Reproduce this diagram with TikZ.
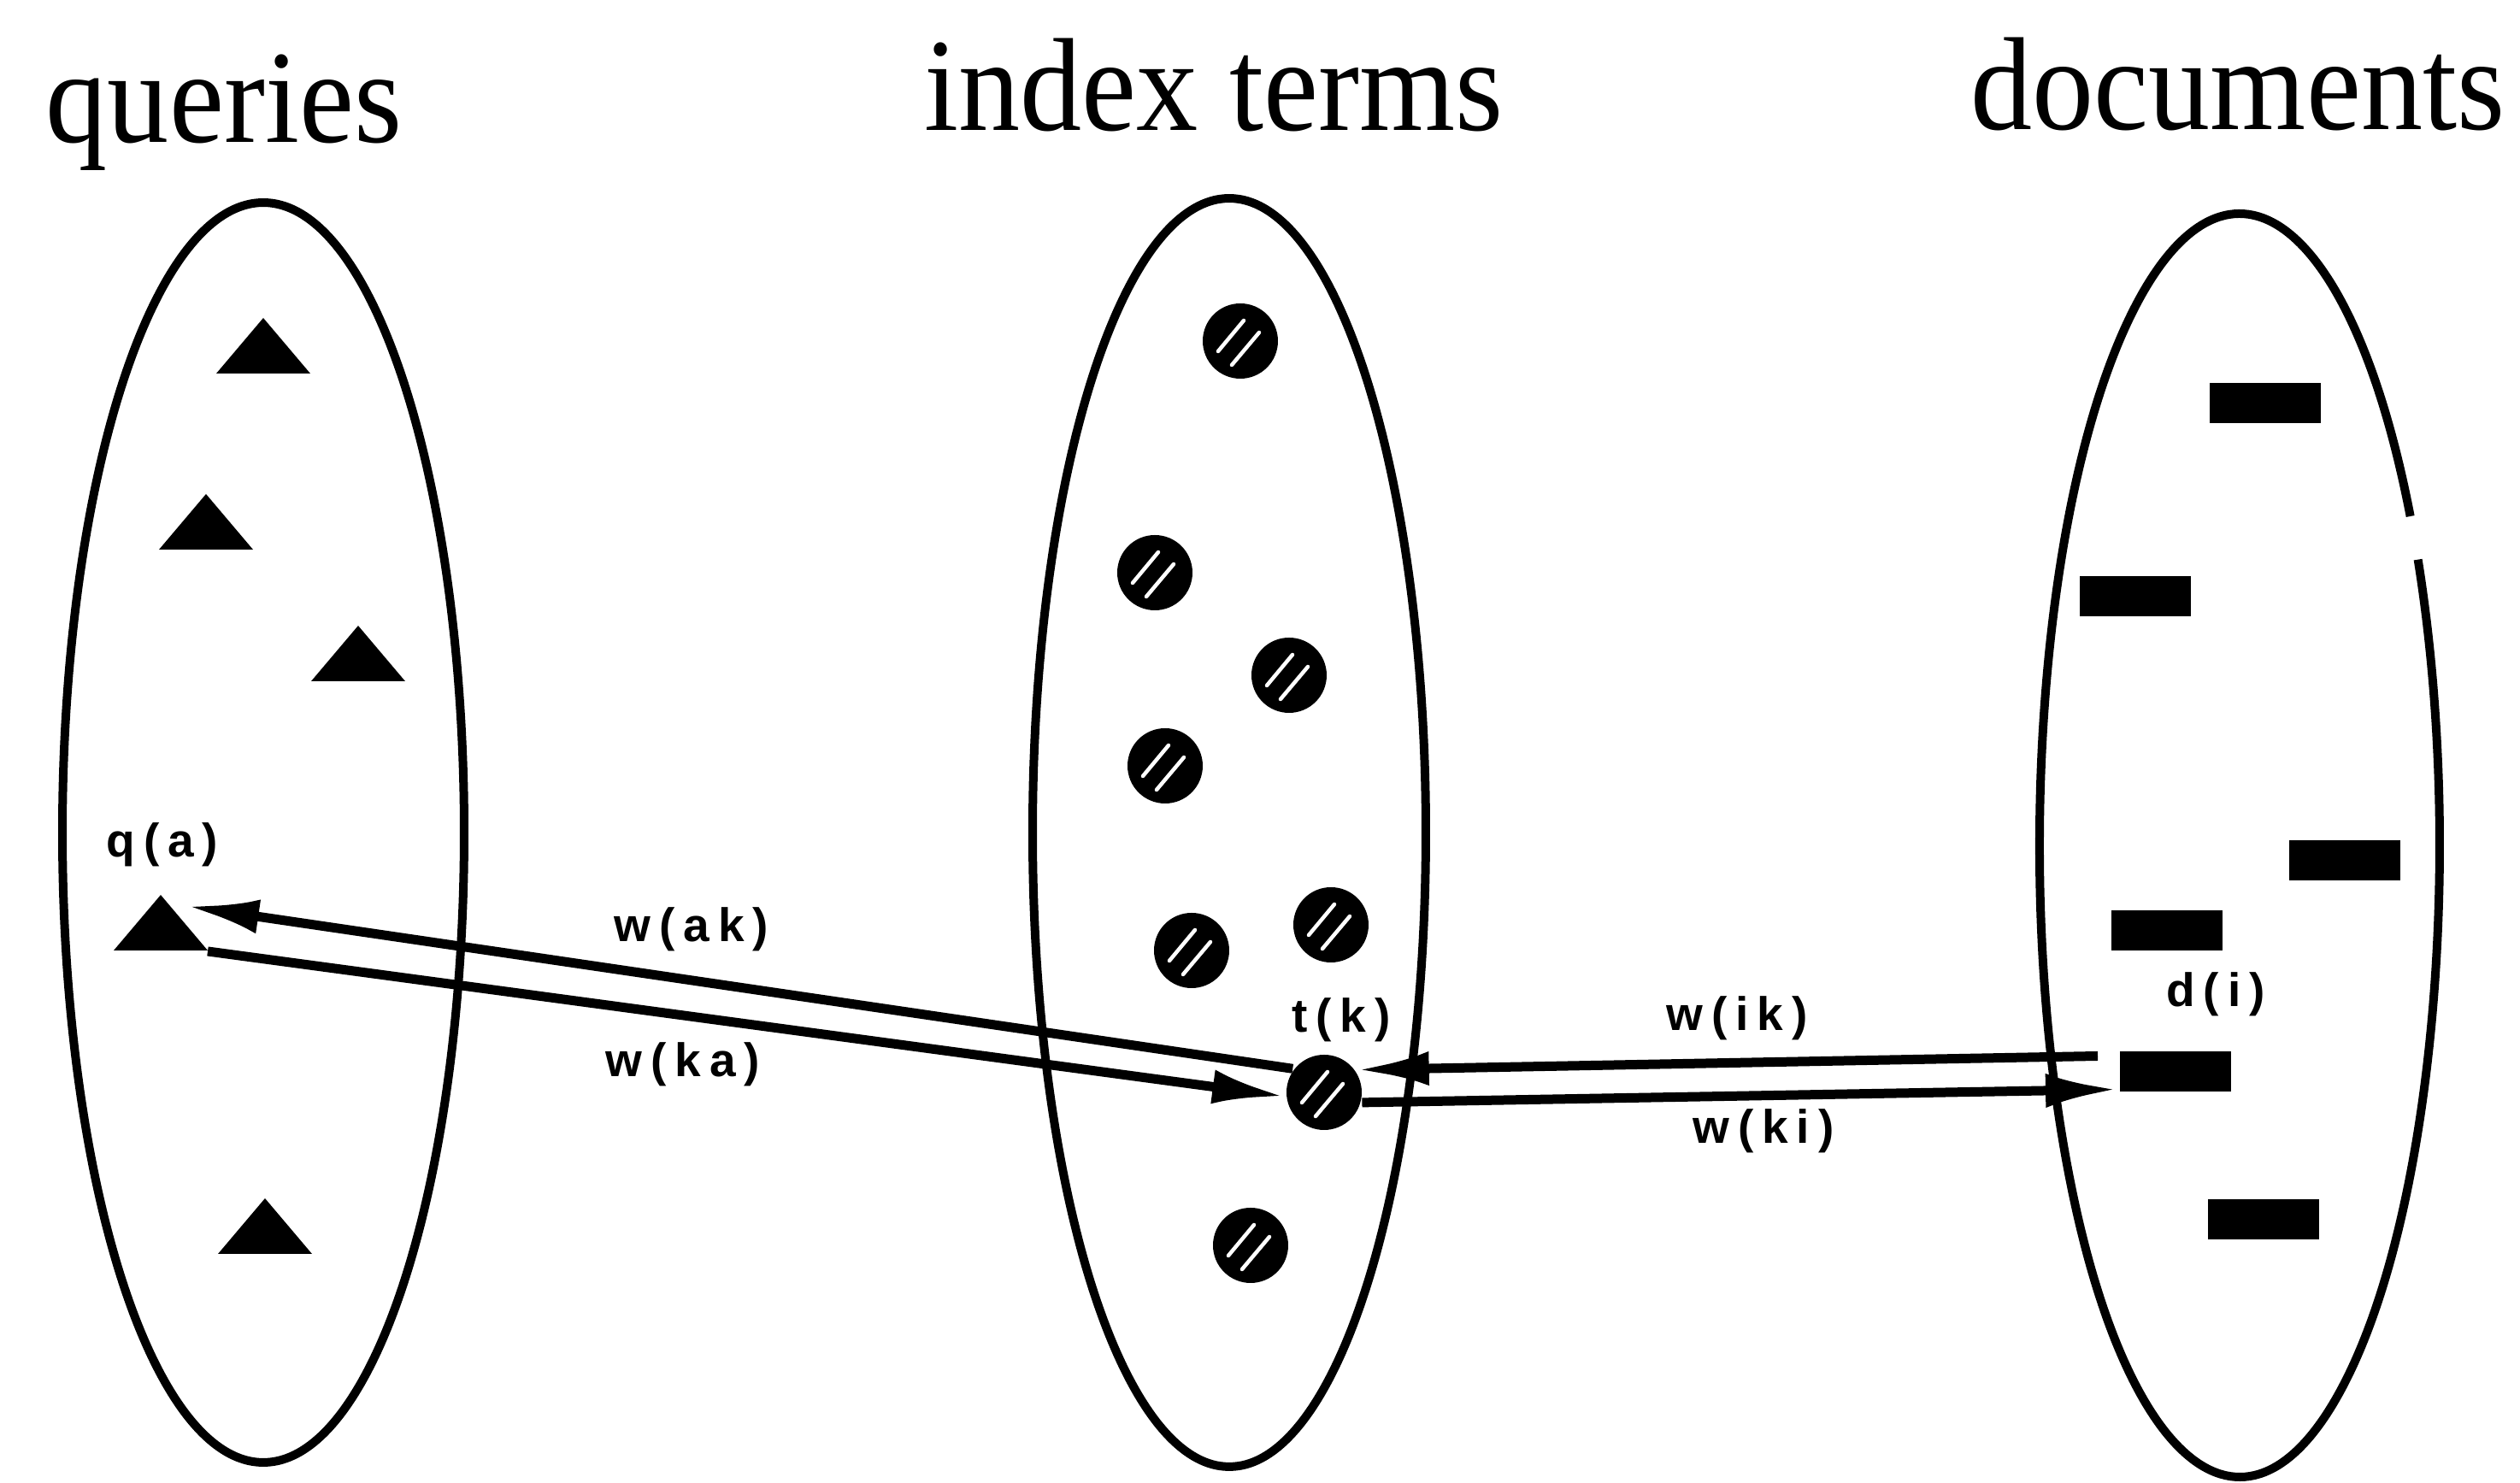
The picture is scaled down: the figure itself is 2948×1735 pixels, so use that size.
\documentclass[tikz,border=0pt]{standalone}
\usepackage{fontspec}
\setmainfont{Liberation Serif}
\newfontfamily\lblfont[LetterSpace=18]{Liberation Sans}
\usetikzlibrary{shapes.geometric,arrows.meta}
\newcommand{\qtri}[2]{\coordinate (#1) at (#2); \fill (#1) ++(0,-33) -- ++(55,65) -- ++(-110,0) -- cycle;}
\begin{document}
\begin{tikzpicture}[x=0.1pt,y=-0.1pt,
  setell/.style={draw, ellipse, line width=1pt, inner sep=0pt},
  term/.style={circle, fill=black, inner sep=0pt, minimum size=8.8pt, path picture={
     \draw[white, line width=0.45pt, line cap=round] ([shift={(-2.6pt,-1.2pt)}]path picture bounding box.center) -- ([shift={(0.4pt,2.4pt)}]path picture bounding box.center);
     \draw[white, line width=0.45pt, line cap=round] ([shift={(-1.0pt,-2.8pt)}]path picture bounding box.center) -- ([shift={(2.2pt,1.0pt)}]path picture bounding box.center);}},
  doc/.style={rectangle, fill=black, inner sep=0pt, minimum width=13pt, minimum height=4.7pt},
  title/.style={font=\fontsize{15.5pt}{18pt}\selectfont, inner sep=0pt, anchor=base, xscale=0.93},
  lbl/.style={font=\lblfont\bfseries\fontsize{5.5pt}{6pt}\selectfont, inner sep=0pt},
  conn/.style={line width=1.1pt, -{Latex[length=8.5pt,width=4pt]}}
]
\useasboundingbox (0,0) rectangle (2948,1735);

% titles
\node[title] (tq) at (262,167) {queries};
\node[title] (ti) at (1420,153) {index terms};
\node[title] (td) at (2618,152) {documents};

% sets
\node[setell, minimum width=47pt, minimum height=147.4pt] (Q) at (308,974) {};
\node[setell, minimum width=46pt, minimum height=148.4pt] (T) at (1438,974) {};
\node[ellipse, inner sep=0pt, minimum width=46.8pt, minimum height=147.8pt] (D) at (2620,989) {};
\draw[line width=1pt] ([shift={(19.97pt,38.5pt)}]D.center) arc[start angle=31.4, end angle=386.9, x radius=23.4pt, y radius=73.9pt];

% queries
\qtri{q1}{308,405}
\qtri{q2}{241,611}
\qtri{q3}{419,765}
\qtri{qa}{188,1080}
\qtri{q5}{310,1435}

% index terms
\node[term] (t1) at (1451,399) {};
\node[term] (t2) at (1351,670) {};
\node[term] (t3) at (1508,790) {};
\node[term] (t4) at (1363,896) {};
\node[term] (t5) at (1557,1082) {};
\node[term] (t6) at (1394,1112) {};
\node[term] (tk) at (1549,1278) {};
\node[term] (t8) at (1463,1457) {};

% documents
\node[doc] (d1) at (2650,472) {};
\node[doc] (d2) at (2498,698) {};
\node[doc] (d3) at (2743,1007) {};
\node[doc] (d4) at (2535,1089) {};
\node[doc] (di) at (2545,1254) {};
\node[doc] (d6) at (2648,1427) {};

% labels
\node[lbl] (lqa) at (190,988) {q(a)};
\node[lbl] (ltk) at (1569,1193) {t(k)};
\node[lbl] (ldi) at (2592,1163) {d(i)};
\node[lbl] (lak) at (809,1087) {w(ak)};
\node[lbl] (lka) at (799,1245) {w(ka)};
\node[lbl] (lik) at (2032,1191) {w(ik)};
\node[lbl] (lki) at (2063,1323) {w(ki)};

% connectors
\draw[conn] (tk.143) -- ([shift={(3pt,2pt)}]qa);
\draw[conn] ([shift={(5.5pt,-3.3pt)}]qa) -- (tk.186);
\draw[conn] ([shift={(-2.4pt,-0.7pt)}]di.north west) -- (tk.35);
\draw[conn] (tk.345) -- ([shift={(0pt,0.5pt)}]di.south west);
\end{tikzpicture}
\end{document}
